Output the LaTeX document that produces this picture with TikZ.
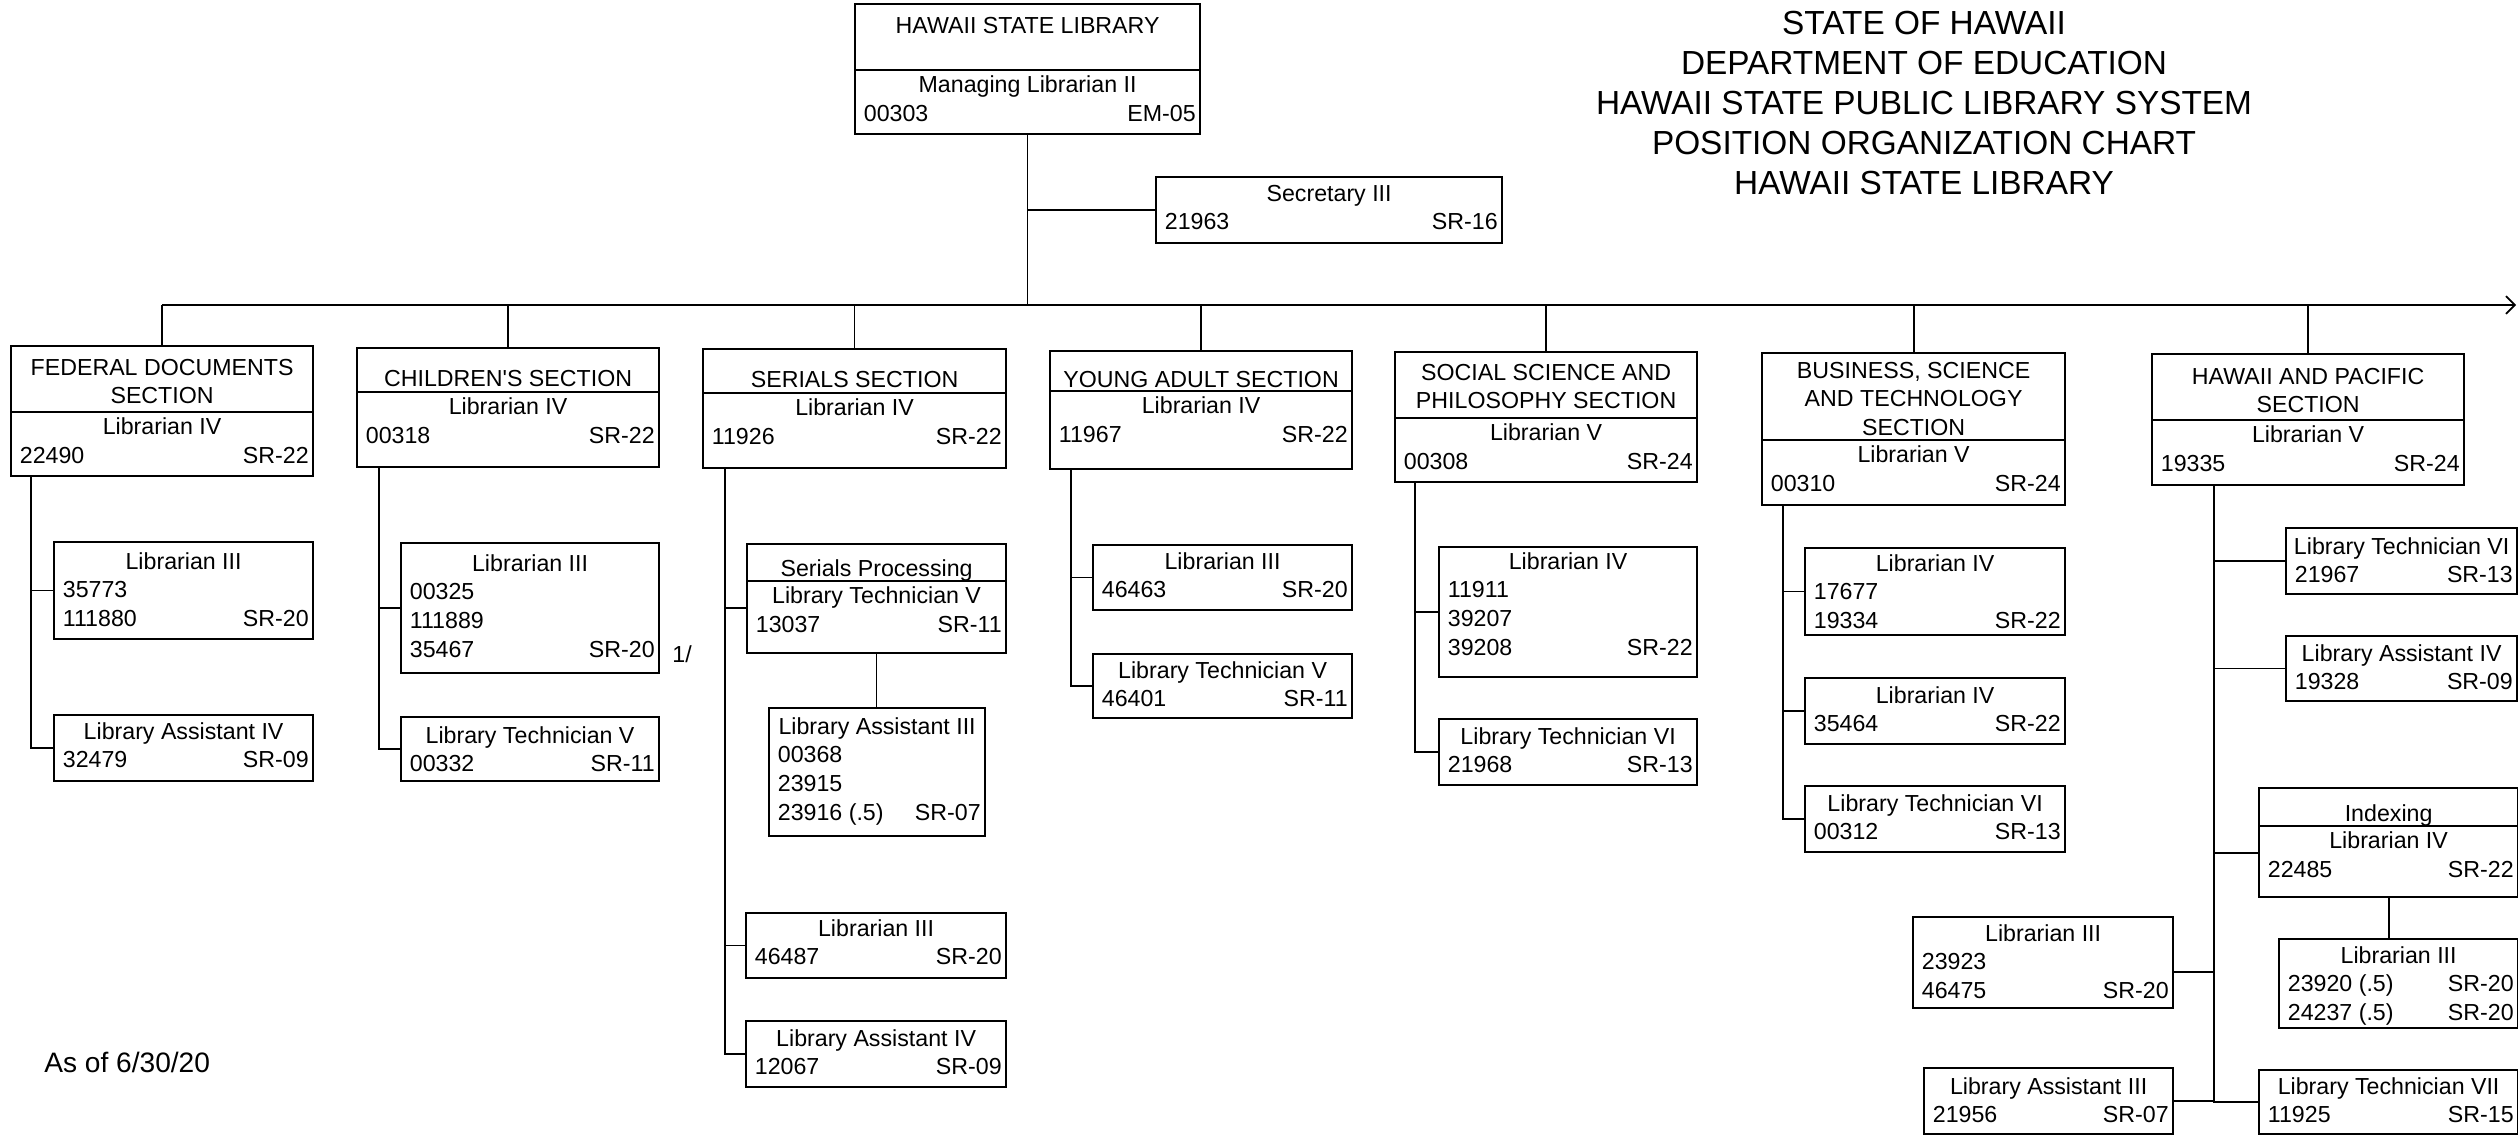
\documentclass[tikz,border=0pt]{standalone}
\usepackage{fontspec}
\setmainfont{Liberation Sans}
\usetikzlibrary{arrows.meta}

\newlength{\pxu}\setlength{\pxu}{0.02cm}
\newcommand{\boxfont}{\fontsize{13.2pt}{16.4pt}\selectfont}
\newcommand{\lnstrut}{\vrule height 11.5pt depth 4.9pt width 0pt}
\newcommand{\ctrline}[1]{\hbox to\hsize{\lnstrut\hfil#1\hfil}}
\newcommand{\posline}[2]{\hbox to\hsize{\lnstrut\hspace{5pt}#1\hfil#2\hspace{2.5pt}}}
\newcommand{\hdrrule}[1]{\kern#1\pxu\hrule height 1.2pt\kern1\pxu}
\newcommand{\boxin}[4]{\parbox[c][#2\pxu][t]{#1\pxu}{\kern#3\pxu#4}}

\begin{document}
\begin{tikzpicture}[x=0.02cm,y=-0.02cm,
    box/.style={draw=black,line width=1.25pt,inner sep=0pt,anchor=north west,font=\boxfont},
    conn/.style={draw=black,line width=1pt}]
    \useasboundingbox (0,0) rectangle (2518,1134);
    \node[box] (HSL) at (854,3) {\boxin{345}{130}{8.8}{\ctrline{HAWAII STATE LIBRARY}\hdrrule{27.4}\ctrline{Managing Librarian II}\posline{00303}{EM-05}}};
    \node[box] (SEC) at (1155,176) {\boxin{346}{66}{3.8}{\ctrline{Secretary III}\posline{21963}{SR-16}}};
    \node[font=\fontsize{19pt}{22.76pt}\selectfont,align=center,anchor=north,inner sep=0pt] (TTL) at (1924,11) {STATE OF HAWAII\\DEPARTMENT OF EDUCATION\\HAWAII STATE PUBLIC LIBRARY SYSTEM\\POSITION ORGANIZATION CHART\\HAWAII STATE LIBRARY};
    % sections
    \node[box] (FED) at (10,345) {\boxin{302}{130}{8.8}{\ctrline{FEDERAL DOCUMENTS}\ctrline{SECTION}\hdrrule{-1.6}\ctrline{Librarian IV}\posline{22490}{SR-22}}};
    \node[box] (CHI) at (356,347) {\boxin{302}{119}{17.8}{\ctrline{CHILDREN\textquotesingle S SECTION}\hdrrule{-3.6}\ctrline{Librarian IV}\posline{00318}{SR-22}}};
    \node[box] (SER) at (702,348) {\boxin{303}{119}{17.8}{\ctrline{SERIALS SECTION}\hdrrule{-3.6}\ctrline{Librarian IV}\posline{11926}{SR-22}}};
    \node[box] (YA) at (1049,350) {\boxin{302}{118}{15.8}{\ctrline{YOUNG ADULT SECTION}\hdrrule{-5.6}\ctrline{Librarian IV}\posline{11967}{SR-22}}};
    \node[box] (SOC) at (1394,351) {\boxin{302}{130}{7.8}{\ctrline{SOCIAL SCIENCE AND}\ctrline{PHILOSOPHY SECTION}\hdrrule{-0.4}\ctrline{Librarian V}\posline{00308}{SR-24}}};
    \node[box] (BUS) at (1761,352) {\boxin{303}{152}{4.8}{\ctrline{BUSINESS, SCIENCE}\ctrline{AND TECHNOLOGY}\ctrline{SECTION}\hdrrule{-5.2}\ctrline{Librarian V}\posline{00310}{SR-24}}};
    \node[box] (HAP) at (2151,353) {\boxin{312}{131}{9.8}{\ctrline{HAWAII AND PACIFIC}\ctrline{SECTION}\hdrrule{-2.4}\ctrline{Librarian V}\posline{19335}{SR-24}}};
    % positions
    \node[box] (FED1) at (53,541) {\boxin{259}{97}{6.8}{\ctrline{Librarian III}\posline{35773}{}\posline{111880}{SR-20}}};
    \node[box] (FED2) at (53,714) {\boxin{259}{66}{3.8}{\ctrline{Library Assistant IV}\posline{32479}{SR-09}}};
    \node[box] (CHI1) at (400,542) {\boxin{258}{130}{7.8}{\ctrline{Librarian III}\posline{00325}{}\posline{111889}{}\posline{35467}{SR-20}}};
    \node[box] (CHI2) at (400,716) {\boxin{258}{64}{5.8}{\ctrline{Library Technician V}\posline{00332}{SR-11}}};
    \node[box] (SERP) at (746,543) {\boxin{259}{109}{11.8}{\ctrline{Serials Processing}\hdrrule{-4.6}\ctrline{Library Technician V}\posline{13037}{SR-11}}};
    \node[box] (SERP1) at (768,707) {\boxin{216}{128}{5.8}{\ctrline{Library Assistant III}\posline{00368}{}\posline{23915}{}\posline{23916 (.5)}{SR-07}}};
    \node[box] (SER1) at (745,912) {\boxin{260}{65}{2.8}{\ctrline{Librarian III}\posline{46487}{SR-20}}};
    \node[box] (SER2) at (745,1020) {\boxin{260}{66}{4.8}{\ctrline{Library Assistant IV}\posline{12067}{SR-09}}};
    \node[box] (YA1) at (1092,544) {\boxin{259}{65}{3.8}{\ctrline{Librarian III}\posline{46463}{SR-20}}};
    \node[box] (YA2) at (1092,653) {\boxin{259}{64}{3.8}{\ctrline{Library Technician V}\posline{46401}{SR-11}}};
    \node[box] (SOC1) at (1438,546) {\boxin{258}{130}{1.8}{\ctrline{Librarian IV}\posline{11911}{}\posline{39207}{}\posline{39208}{SR-22}}};
    \node[box] (SOC2) at (1438,718) {\boxin{258}{66}{4.8}{\ctrline{Library Technician VI}\posline{21968}{SR-13}}};
    \node[box] (BUS1) at (1804,547) {\boxin{260}{87}{2.8}{\ctrline{Librarian IV}\posline{17677}{}\posline{19334}{SR-22}}};
    \node[box] (BUS2) at (1804,677) {\boxin{260}{66}{4.8}{\ctrline{Librarian IV}\posline{35464}{SR-22}}};
    \node[box] (BUS3) at (1804,785) {\boxin{260}{66}{4.8}{\ctrline{Library Technician VI}\posline{00312}{SR-13}}};
    \node[box] (HAP1) at (2285,527) {\boxin{231}{66}{5.8}{\ctrline{Library Technician VI}\posline{21967}{SR-13}}};
    \node[box] (HAP2) at (2285,635) {\boxin{231}{65}{4.8}{\ctrline{Library Assistant IV}\posline{19328}{SR-09}}};
    \node[box] (IDX) at (2258,787) {\boxin{259}{109}{12.8}{\ctrline{Indexing}\hdrrule{-4.6}\ctrline{Librarian IV}\posline{22485}{SR-22}}};
    \node[box] (IDX1) at (2278,938) {\boxin{239}{89}{3.8}{\ctrline{Librarian III}\posline{23920 (.5)}{SR-20}\posline{24237 (.5)}{SR-20}}};
    \node[box] (HAP3) at (1912,916) {\boxin{260}{91}{3.8}{\ctrline{Librarian III}\posline{23923}{}\posline{46475}{SR-20}}};
    \node[box] (HAP4) at (1923,1067) {\boxin{249}{66}{5.8}{\ctrline{Library Assistant III}\posline{21956}{SR-07}}};
    \node[box] (HAP5) at (2258,1069) {\boxin{259}{64}{3.8}{\ctrline{Library Technician VII}\posline{11925}{SR-15}}};
    \node[font=\boxfont,anchor=base west,inner sep=0pt] (NOTE) at (672,662) {1/};
    \node[font=\fontsize{16pt}{19pt}\selectfont,anchor=base west,inner sep=0pt] (ASOF) at (44,1072) {As of 6/30/20};
    % lines
    \coordinate (BUSEND) at (2516,305);
    \draw[conn] (HSL.south) -- (HSL.south |- BUSEND);
    \draw[conn] (SEC.west) -- (SEC.west -| HSL.south);
    \draw[conn,-{Straight Barb[length=5pt,width=10pt]}] (FED.north |- BUSEND) -- (BUSEND);
    \draw[conn] (FED.north) -- (FED.north |- BUSEND);
    \draw[conn] (CHI.north) -- (CHI.north |- BUSEND);
    \draw[conn] (SER.north) -- (SER.north |- BUSEND);
    \draw[conn] (YA.north) -- (YA.north |- BUSEND);
    \draw[conn] (SOC.north) -- (SOC.north |- BUSEND);
    \draw[conn] (BUS.north) -- (BUS.north |- BUSEND);
    \draw[conn] (HAP.north) -- (HAP.north |- BUSEND);
    \coordinate (FEDS) at (FED.south -| 31,0);
    \coordinate (CHIS) at (CHI.south -| 379,0);
    \coordinate (SERS) at (SER.south -| 725,0);
    \coordinate (YAS) at (YA.south -| 1071,0);
    \coordinate (SOCS) at (SOC.south -| 1415,0);
    \coordinate (BUSS) at (BUS.south -| 1783,0);
    \coordinate (HAPS) at (HAP.south -| 2214,0);
    \coordinate (SERPIN) at ([yshift=-5.4pt]SERP.west);
    \coordinate (IDXIN) at ([yshift=-6pt]IDX.west);
    \coordinate (HAP3IN) at ([yshift=-5.4pt]HAP3.east);
    \draw[conn] (FEDS) |- (FED2.west);
    \draw[conn] (FED1.west -| FEDS) -- (FED1.west);
    \draw[conn] (CHIS) |- (CHI2.west);
    \draw[conn] (CHI1.west -| CHIS) -- (CHI1.west);
    \draw[conn] (SERS) |- (SER2.west);
    \draw[conn] (SERPIN -| SERS) -- (SERPIN);
    \draw[conn] (SER1.west -| SERS) -- (SER1.west);
    \draw[conn] (SERP.south) -- (SERP.south |- SERP1.north);
    \draw[conn] (YAS) |- (YA2.west);
    \draw[conn] (YA1.west -| YAS) -- (YA1.west);
    \draw[conn] (SOCS) |- (SOC2.west);
    \draw[conn] (SOC1.west -| SOCS) -- (SOC1.west);
    \draw[conn] (BUSS) |- (BUS3.west);
    \draw[conn] (BUS1.west -| BUSS) -- (BUS1.west);
    \draw[conn] (BUS2.west -| BUSS) -- (BUS2.west);
    \draw[conn] (HAPS) |- (HAP5.west);
    \draw[conn] (HAP1.west -| HAPS) -- (HAP1.west);
    \draw[conn] (HAP2.west -| HAPS) -- (HAP2.west);
    \draw[conn] (IDXIN -| HAPS) -- (IDXIN);
    \draw[conn] (HAP3IN) -- (HAP3IN -| HAPS);
    \draw[conn] (HAP4.east) -- (HAP4.east -| HAPS);
    \draw[conn] (IDX.south) -- (IDX.south |- IDX1.north);
\end{tikzpicture}
\end{document}
